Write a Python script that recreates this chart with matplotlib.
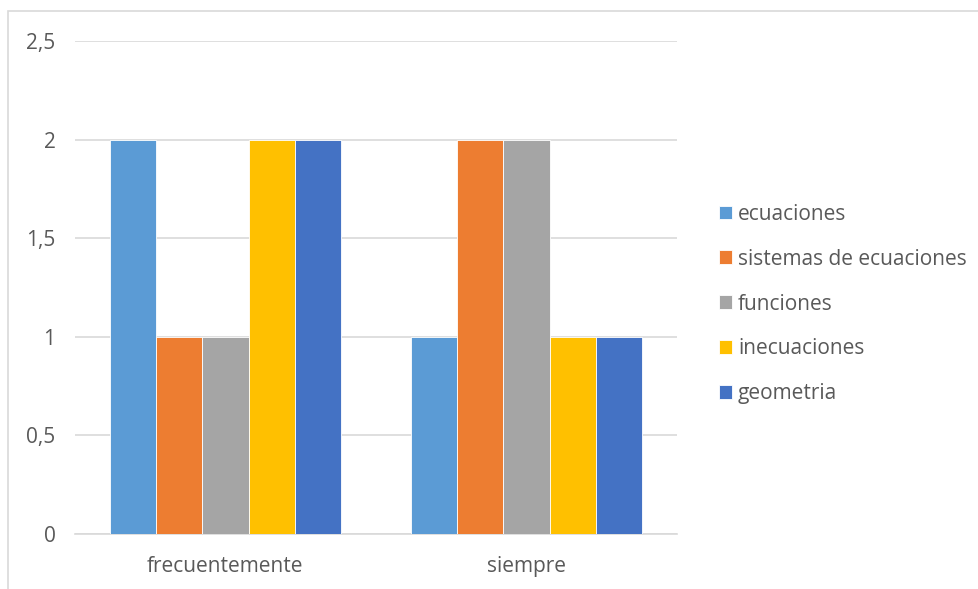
import matplotlib
matplotlib.use("Agg")
import matplotlib.pyplot as plt
from matplotlib.patches import Rectangle
import numpy as np

plt.rcParams['font.family'] = ['Open Sans', 'DejaVu Sans']

categories = ["frecuentemente", "siempre"]
series_names = ["ecuaciones", "sistemas de ecuaciones", "funciones", "inecuaciones", "geometria"]
ecuaciones = [2, 1]
sistemas = [1, 2]
funciones = [1, 2]
inecuaciones = [2, 1]
geometria = [2, 1]
y_ticks = [0, 0.5, 1, 1.5, 2, 2.5]
y_tick_labels = ["0", "0,5", "1", "1,5", "2", "2,5"]

colors = ["#5B9BD5", "#ED7D31", "#A5A5A5", "#FFC000", "#4472C4"]
text_color = "#595959"
grid_color = "#D9D9D9"

W, H = 979, 589
fig = plt.figure(figsize=(W / 100, H / 100), dpi=100)

# chart-area border (top and left edges visible)
fig.add_artist(Rectangle((8 / W, -0.1), 1.2, 1 - 11 / H + 0.1, transform=fig.transFigure,
                         fill=False, edgecolor=grid_color, linewidth=1.2))

ax = fig.add_axes([75 / W, 1 - 534 / H, (677 - 75) / W, (534 - 41) / H])

values = [ecuaciones, sistemas, funciones, inecuaciones, geometria]
x = np.arange(len(categories))
bw = 0.153
n = len(values)
for i, (name, vals) in enumerate(zip(series_names, values)):
    offs = (i - (n - 1) / 2) * bw
    ax.bar(x + offs, vals, width=bw, color=colors[i], label=name, zorder=3,
           edgecolor="white", linewidth=0.6)

fs = 15
ax.set_xlim(-0.5, 1.5)
ax.set_ylim(0, 2.5)
ax.set_yticks(y_ticks)
ax.set_yticklabels(y_tick_labels)
ax.set_xticks(x)
ax.set_xticklabels(categories)
ax.yaxis.grid(True, color=grid_color, linewidth=1.2, zorder=0)
ax.set_axisbelow(True)
for s in ["top", "right", "left"]:
    ax.spines[s].set_visible(False)
ax.spines["bottom"].set_color(grid_color)
ax.spines["bottom"].set_linewidth(1.2)
ax.tick_params(axis="both", length=0, colors=text_color, labelsize=fs)
ax.tick_params(axis="y", pad=14)
ax.tick_params(axis="x", pad=16)

leg = ax.legend(loc="center left", bbox_to_anchor=(700 / W, 1 - 304 / H),
                bbox_transform=fig.transFigure, frameon=False, fontsize=fs,
                handlelength=0.62, handleheight=0.62, handletextpad=0.3,
                labelspacing=1.15, labelcolor=text_color)

fig.savefig("out.png", dpi=100)
